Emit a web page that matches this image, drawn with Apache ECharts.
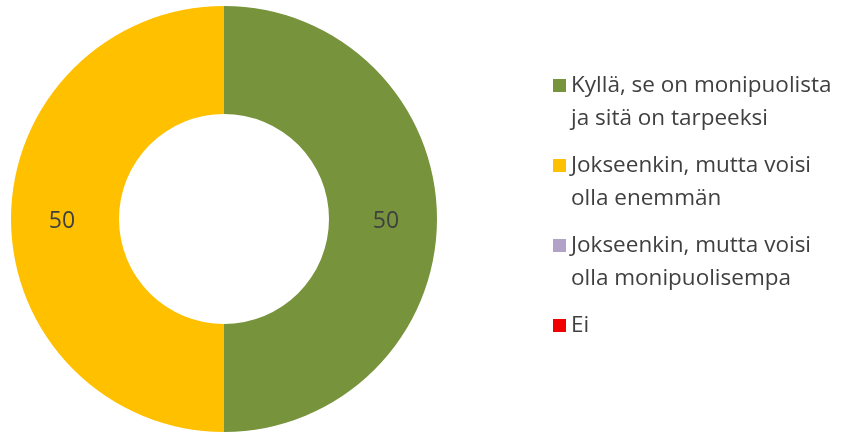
<!DOCTYPE html>
<html><head><meta charset="utf-8">
<script src="https://cdn.jsdelivr.net/npm/echarts@6/dist/echarts.min.js"></script>
<style>html,body{margin:0;padding:0;background:#fff}#c{width:845px;height:434px}</style>
</head><body><div id="c"></div>
<script>
const categories = [
  'Kyllä, se on monipuolista ja sitä on tarpeeksi',
  'Jokseenkin, mutta voisi olla enemmän',
  'Jokseenkin, mutta voisi olla monipuolisempa',
  'Ei'
];
const legendLines = [
  ['Kyllä, se on monipuolista', 'ja sitä on tarpeeksi'],
  ['Jokseenkin, mutta voisi', 'olla enemmän'],
  ['Jokseenkin, mutta voisi', 'olla monipuolisempa'],
  ['Ei', ' ']
];
const values = [50, 50, 0, 0];
const colors = ['#77933C', '#FFC000', '#B3A2C7', '#F00000'];

const chart = echarts.init(document.getElementById('c'), null, {renderer: 'canvas'});
chart.setOption({
  animation: false,
  color: colors,
  legend: {
    orient: 'vertical',
    left: 553,
    top: 36,
    padding: 0,
    itemWidth: 13,
    itemHeight: 13,
    itemGap: -19,
    icon: 'rect',
    data: categories,
    textStyle: {fontFamily: 'Open Sans', fontSize: 22.5, color: '#404040', lineHeight: 33},
    formatter: function (name) {
      const i = categories.indexOf(name);
      return ' \n' + legendLines[i][0] + '\n' + legendLines[i][1];
    }
  },
  series: [{
    type: 'pie',
    center: [224, 219],
    radius: [105, 213],
    startAngle: 90,
    clockwise: true,
    avoidLabelOverlap: false,
    itemStyle: {borderWidth: 0},
    label: {
      show: true,
      position: 'inside',
      fontFamily: 'Open Sans',
      fontSize: 23,
      color: '#404040',
      offset: [0, 2],
      formatter: function (p) { return p.value ? String(p.value) : ''; }
    },
    labelLine: {show: false},
    data: categories.map((c, i) => ({name: c, value: values[i]}))
  }]
});
</script></body></html>
